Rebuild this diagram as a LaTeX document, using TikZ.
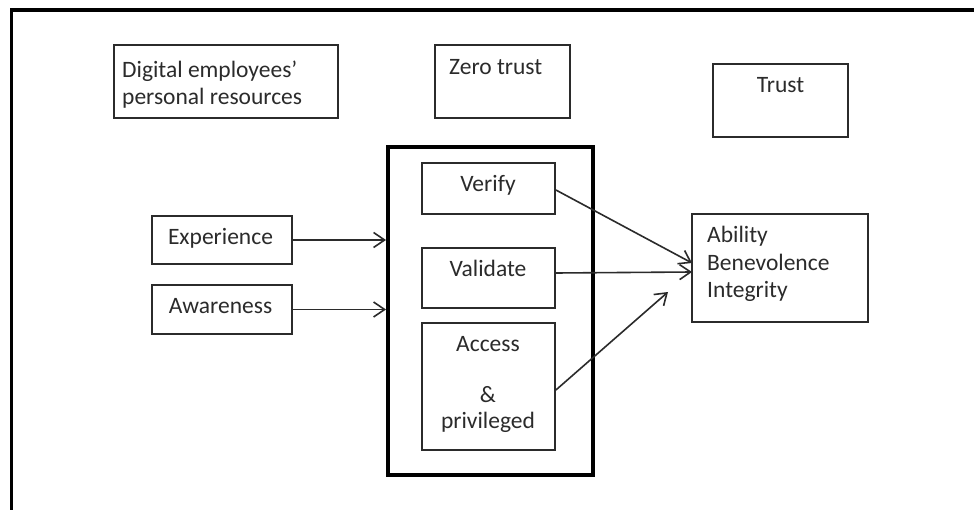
\documentclass[tikz,border=0pt]{standalone}
\usepackage{fontspec}
\setmainfont{Carlito}
\usetikzlibrary{arrows.meta}
\definecolor{ink}{HTML}{2B2B2B}
\tikzset{
  box/.style={draw=ink, line width=1.8pt, inner sep=0pt, fill=white},
  frame/.style={draw=black, line width=4pt, inner sep=0pt},
  txt/.style={text=ink, inner sep=0pt, font=\fontsize{23.5}{28}\selectfont},
  link/.style={draw=ink, line width=1.6pt, -{Straight Barb[length=11pt,width=15pt,line width=1.6pt]}}
}
\begin{document}
\begin{tikzpicture}[x=1pt, y=-1pt]
\useasboundingbox (0,0) rectangle (974,510);
\fill[white] (0,0) rectangle (974,510);

% open outer border: top and left edges only
\draw[line width=3.5pt, black] (11.5,510) -- (11.5,10) -- (976,10);

% upper row of headings
\node[box, minimum width=224, minimum height=73] (digital) at (226,81.5) {};
\node[txt, anchor=base west] (dig1) at (122,78) {Digital employees’};
\node[txt, anchor=base west] (dig2) at (122,105) {personal resources};

\node[box, minimum width=135, minimum height=73] (zero) at (502.5,81.5) {};
\node[txt, anchor=base west] (zerot) at (449,75) {Zero trust};

\node[box, minimum width=135, minimum height=73] (trust) at (780.5,100.5) {};
\node[txt, anchor=base] (trustt) at (780.5,93) {Trust};

% antecedents
\node[box, minimum width=140, minimum height=48] (exp) at (222,240) {};
\node[txt, anchor=base] (expt) at (220.5,245) {Experience};

\node[box, minimum width=140, minimum height=49] (awa) at (222,309.5) {};
\node[txt, anchor=base] (awat) at (220.5,314) {Awareness};

% zero trust core
\node[frame, minimum width=205, minimum height=328] (core) at (490.5,311) {};

\node[box, minimum width=133, minimum height=51] (verify) at (488.5,188.5) {};
\node[txt, anchor=base] (verifyt) at (488,192) {Verify};

\node[box, minimum width=133, minimum height=60] (valid) at (488.5,278) {};
\node[txt, anchor=base] (validt) at (488,277) {Validate};

\node[box, minimum width=133, minimum height=127] (access) at (488.5,386.5) {};
\node[txt, anchor=base] (acc1) at (488,352) {Access};
\node[txt, anchor=base] (acc2) at (488,402) {\&};
\node[txt, anchor=base] (acc3) at (488,428) {privileged};

% trust dimensions
\node[box, minimum width=176, minimum height=108] (abi) at (780,268) {};
\node[txt, anchor=base west] (abi1) at (707,243) {Ability};
\node[txt, anchor=base west] (abi2) at (707,271) {Benevolence};
\node[txt, anchor=base west] (abi3) at (707,298) {Integrity};

% connector end points
\coordinate (inA) at (core.west |- exp.east);
\coordinate (inB) at (core.west |- awa.east);
\coordinate (tA) at (692,263);
\coordinate (tB) at (692,272);
\coordinate (tC) at (668,292);

\draw[link] (exp.east) -- (inA);
\draw[link] (awa.east) -- (inB);
\draw[link] ([yshift=-1.5]verify.east) -- (tA);
\draw[link] ([yshift=5]valid.east) -- (tB);
\draw[link] ([yshift=-3.5]access.east) -- (tC);
\end{tikzpicture}
\end{document}
